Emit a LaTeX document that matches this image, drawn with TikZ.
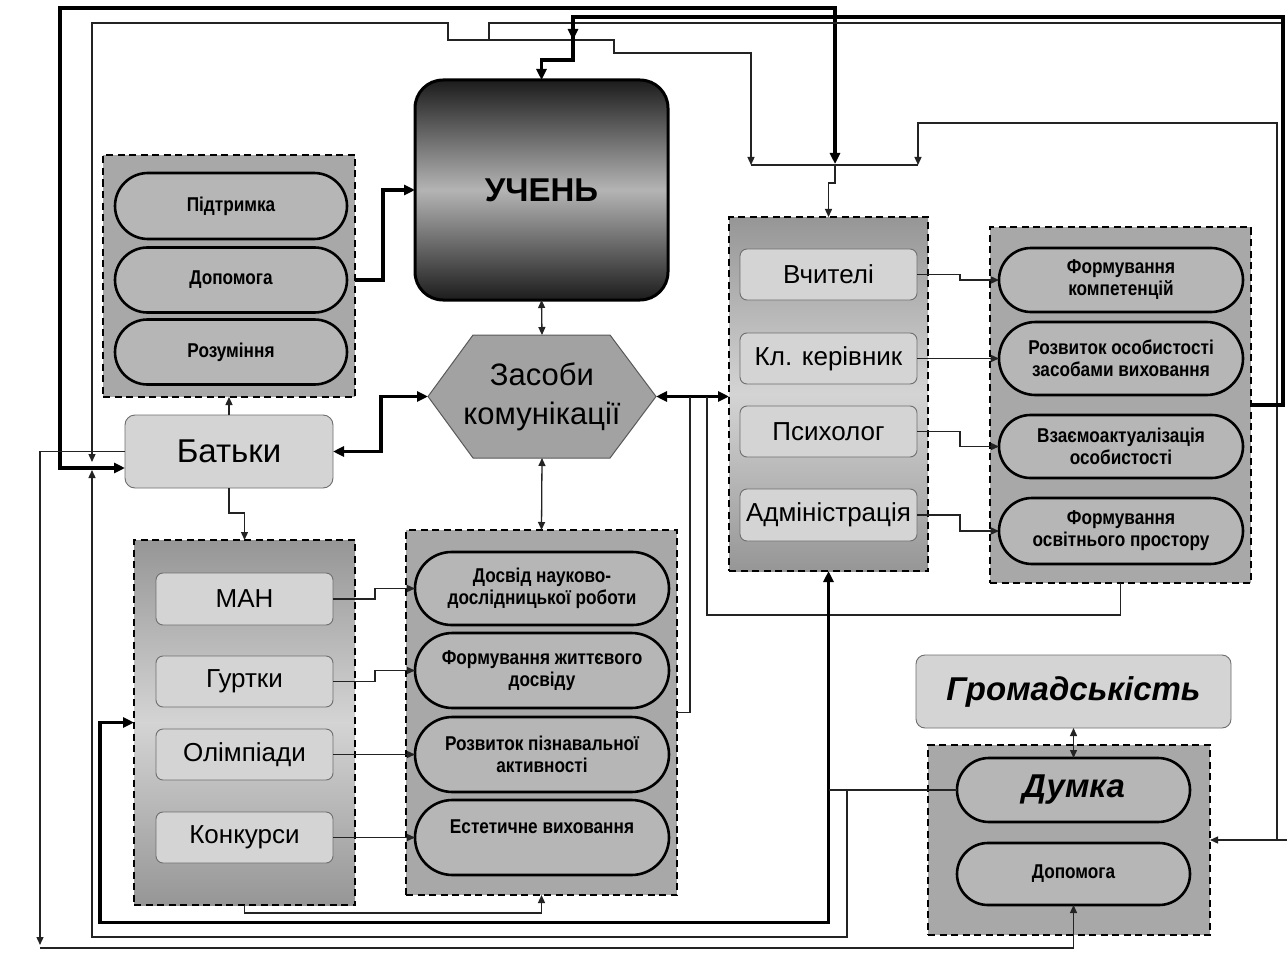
\documentclass[tikz,border=0pt]{standalone}
\usepackage{fontspec}
\setmainfont{Liberation Sans}
\newfontfamily\narrowfont[FakeStretch=0.86]{Liberation Sans}
\usetikzlibrary{arrows.meta,shapes.misc,calc}
\definecolor{grpc}{RGB}{168,168,168}
\definecolor{grpd}{RGB}{150,150,150}
\definecolor{grpl}{RGB}{212,212,212}
\definecolor{pillc}{RGB}{182,182,182}
\definecolor{boxc}{RGB}{212,212,212}
\definecolor{boxb}{RGB}{110,110,110}
\definecolor{hexc}{RGB}{162,162,162}
\definecolor{ucd}{RGB}{28,28,28}
\definecolor{ucl}{RGB}{180,180,180}
\definecolor{lnc}{RGB}{35,35,35}
\begin{document}
\begin{tikzpicture}[x=1pt,y=-1pt,>={Triangle[length=8pt,width=7pt]},
 grp/.style={draw=black,line width=2.2pt,dash pattern=on 7pt off 4.5pt,fill=grpc,inner sep=0,outer sep=0},
 grpg/.style={grp,top color=grpd,bottom color=grpd,middle color=grpl},
 pill/.style={rounded rectangle,draw=black,line width=2.6pt,fill=pillc,align=center,inner sep=0,outer sep=0,font=\narrowfont\bfseries\fontsize{20}{22}\selectfont},
 box/.style={rounded corners=7pt,draw=boxb,line width=0.9pt,fill=boxc,align=center,inner sep=0,outer sep=0},
 fb/.style={font=\fontsize{26}{30}\selectfont},
 thin/.style={line width=1.3pt,draw=lnc},
 thk/.style={line width=3.6pt,draw=black,>={Triangle[length=11pt,width=10pt]}}]
\useasboundingbox (0,0) rectangle (1287,960);
\fill[white] (0,0) rectangle (1287,960);

% ---------- groups and nodes ----------
\node[grp, minimum width=252, minimum height=242] (gTop) at (229,276) {};
\node[pill, minimum width=232, minimum height=66] (tp1) at (231,206) {Підтримка};
\node[pill, minimum width=232, minimum height=65] (tp2) at (231,280) {Допомога};
\node[pill, minimum width=232, minimum height=65] (tp3) at (231,352) {Розуміння};

\node[draw=black,line width=3pt,rounded corners=28pt,top color=ucd,bottom color=ucd,middle color=ucl,
  minimum width=253,minimum height=220,inner sep=0,outer sep=0,
  font=\bfseries\fontsize{33}{38}\selectfont] (uch) at (541.5,190) {УЧЕНЬ};

\path[fill=hexc, draw=gray!70!black, line width=1pt] (428,396.5) -- (473,335) -- (610,335) -- (656,396.5) -- (610,458) -- (473,458) -- cycle;
\node[minimum width=228,minimum height=123,inner sep=0,outer sep=0,align=center,
  font=\fontsize{31}{39}\selectfont] (hex) at (542,396.5) {Засоби\\комунікації};

\node[box, rounded corners=10pt, minimum width=208, minimum height=73, font=\fontsize{33}{38}\selectfont] (bat) at (229,451.5) {Батьки};

\node[grpg, minimum width=221, minimum height=365] (gMan) at (244.5,722.5) {};
\node[box, fb, minimum width=177, minimum height=52] (man) at (244.5,599) {МАН};
\node[box, fb, minimum width=177, minimum height=51] (gur) at (244.5,681.5) {Гуртки};
\node[box, fb, minimum width=177, minimum height=51] (oli) at (244.5,754.5) {Олімпіади};
\node[box, fb, minimum width=177, minimum height=51] (kon) at (244.5,837.5) {Конкурси};

\node[grp, minimum width=271, minimum height=365] (gMid) at (541.5,712.5) {};
\node[pill, minimum width=254, minimum height=73] (mp1) at (542,588.5) {Досвід науково-\\дослідницької роботи};
\node[pill, minimum width=254, minimum height=75] (mp2) at (542,670.5) {Формування життєвого\\досвіду};
\node[pill, minimum width=254, minimum height=75] (mp3) at (542,754.5) {Розвиток пізнавальної\\активності};
\node[pill, minimum width=254, minimum height=75] (mp4) at (542,837.5) {Естетичне виховання\\~};

\node[grpg, minimum width=199, minimum height=354] (gTeach) at (828.5,394) {};
\node[box, fb, minimum width=177, minimum height=51] (vch) at (828.5,274.5) {Вчителі};
\node[box, fb, minimum width=177, minimum height=51] (kl) at (828.5,358.5) {Кл. керівник};
\node[box, fb, minimum width=177, minimum height=51] (psy) at (828.5,431.5) {Психолог};
\node[box, fb, minimum width=177, minimum height=52] (adm) at (828.5,515) {Адміністрація};

\node[grp, minimum width=261, minimum height=356] (gRight) at (1120.5,405) {};
\node[pill, minimum width=244, minimum height=64] (rp1) at (1121,280) {Формування\\компетенцій};
\node[pill, minimum width=244, minimum height=73] (rp2) at (1121,358.5) {Розвиток особистості\\засобами виховання};
\node[pill, minimum width=244, minimum height=63] (rp3) at (1121,446.5) {Взаємоактуалізація\\особистості};
\node[pill, minimum width=244, minimum height=66] (rp4) at (1121,531) {Формування\\освітнього простору};

\node[box, rounded corners=9pt, minimum width=315, minimum height=73,
  font=\bfseries\itshape\fontsize{33}{38}\selectfont] (gro) at (1073.5,691.5) {Громадськість};
\node[grp, minimum width=282, minimum height=190] (gDum) at (1069,840) {};
\node[pill, minimum width=233, minimum height=64, font=\bfseries\itshape\fontsize{33}{38}\selectfont] (dum) at (1073.5,790) {Думка};
\node[pill, minimum width=233, minimum height=62] (dop) at (1073.5,874) {Допомога};

% ---------- junction coordinates ----------
\coordinate (jb) at (92,466);
\coordinate (busL) at (751,165);
\coordinate (busR) at (918,165);
\coordinate (busM) at (835,165);

% ---------- connectors ----------
\draw[thk,->] (tp2.east -| gTop.east) -- ++(28,0) |- (uch.west);
\draw[thin,->] (bat.north) -- (gTop.south);
\draw[thk,<->] (bat.east) -- ++(48,0) |- (hex.west);
\draw[thin,->] (bat.south) -- ++(0,25) -| (gMan.north);
\draw[thin,<->] (uch.south) -- (hex.north);
\draw[thin,<->] (hex.south) -- (gMid.north);
\draw[thk,<->] (hex.east) -- (hex.east -| gTeach.west);

\draw[thin,->] (man.east) -- ++(42,0) |- (mp1.west);
\draw[thin,->] (gur.east) -- ++(42,0) |- (mp2.west);
\draw[thin,->] (oli.east) -- (mp3.west);
\draw[thin,->] (kon.east) -- (mp4.west);

\draw[thin,->] (vch.east) -- ++(43,0) |- (rp1.west);
\draw[thin,->] (kl.east) -- (rp2.west);
\draw[thin,->] (psy.east) -- ++(43,0) |- (rp3.west);
\draw[thin,->] (adm.east) -- ++(43,0) |- (rp4.west);

\draw[thin,<->] (gro.south) -- (dum.north);

\draw[thin,->] (gMan.south) -- ++(0,8) -| (gMid.south);
\draw[thin] (gMid.east) -- ++(13,0) -- ($(hex.east)+(34,0)$);
\draw[thin] (gRight.south) -- ++(0,32) -| ($(hex.east)+(51,0)$);

\draw[thk,<->] (gMan.west) -- ++(-34,0) -- ++(0,200) -| (gTeach.south);
\draw[thin] (dum.west) -- (dum.west -| gTeach.south);
\draw[thin,->] ($(dum.west)+(-110,0)$) -- ++(0,147) -| ($(jb)+(0,4)$);

\draw[thk,<->] ($(bat.west)+(0,16.5)$) -- (60,468) -- (60,8) -- (835,8) -- ($(busM)+(0,-1)$);
\draw[thin] (busL) -- (busR);
\draw[thin,->] (busM) -- ++(0,18) -- ++(-6.5,0) -- (gTeach.north);
\draw[thin,<->] ($(jb)+(0,-4)$) -- (92,23) -- (448,23) -- (448,40) -- (614,40) -- (614,53) -| (busL);
\draw[thin] (489,40) -- (489,23) -- (1283,23);
\draw[thin,<->] (busR) -- (918,123) -- (1277,123) |- (gDum.east);
\draw[thin] (1277,840) -- (1287,840);

\draw[thk,->] (gRight.east) -- (1283,405) -- (1283,17) -- (573,17) -- (573,60) -| (uch.north);
\draw[thk,->] (573,17) -- (573,40);

\draw[thin,->] (bat.west) -- (40,451.5) -- (40,945);
\draw[thin,->] (40,948) -- (1073.5,948) -- (dop.south);
\end{tikzpicture}
\end{document}
